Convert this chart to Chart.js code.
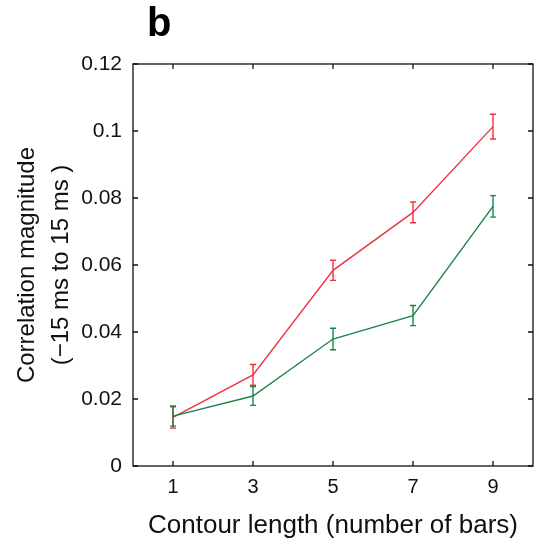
<!DOCTYPE html>
<html>
<head>
<meta charset="utf-8">
<script src="https://cdn.jsdelivr.net/npm/chart.js@4"></script>
<style>
  html, body { margin: 0; padding: 0; background: #ffffff; }
  #chart { display: block; }
</style>
</head>
<body>
<canvas id="chart" width="550" height="546"></canvas>
<script>
// Data
const contourLengths = [1, 3, 5, 7, 9];
const redMeans  = [0.0145, 0.0272, 0.0584, 0.0757, 0.1013];
const redErrs   = [0.0032, 0.0031, 0.0030, 0.0031, 0.0037];
const greenMeans = [0.0149, 0.0209, 0.0379, 0.0449, 0.0775];
const greenErrs  = [0.0030, 0.0028, 0.0032, 0.0030, 0.0032];

const xTicks = [1, 3, 5, 7, 9];
const yTicks = [0, 0.02, 0.04, 0.06, 0.08, 0.1, 0.12];
const yTickLabels = ['0', '0.02', '0.04', '0.06', '0.08', '0.1', '0.12'];

const RED = '#ee3340';
const GREEN = '#1b8548';
const FONT = '"Liberation Sans", Arial, Helvetica, sans-serif';

function toPoints(xs, ys) {
    return xs.map((x, i) => ({ x: x, y: ys[i] }));
}

// Error bars drawn through the chart's scales
const errorBarPlugin = {
    id: 'errorBars',
    afterDatasetsDraw(chart) {
        const ctx = chart.ctx;
        const xs = chart.scales.x;
        const ys = chart.scales.y;
        const sets = [
            { means: redMeans, errs: redErrs, color: RED },
            { means: greenMeans, errs: greenErrs, color: GREEN }
        ];
        ctx.save();
        sets.forEach(s => {
            ctx.strokeStyle = s.color;
            ctx.lineWidth = 1.4;
            s.means.forEach((m, i) => {
                const px = xs.getPixelForValue(contourLengths[i]);
                const top = ys.getPixelForValue(m + s.errs[i]);
                const bot = ys.getPixelForValue(m - s.errs[i]);
                ctx.beginPath();
                ctx.moveTo(px, top);
                ctx.lineTo(px, bot);
                ctx.moveTo(px - 3, top);
                ctx.lineTo(px + 3, top);
                ctx.moveTo(px - 3, bot);
                ctx.lineTo(px + 3, bot);
                ctx.stroke();
            });
        });
        ctx.restore();
    }
};

// Box frame with inward ticks, plus the panel letter
const framePlugin = {
    id: 'frame',
    afterDraw(chart) {
        const ctx = chart.ctx;
        const a = chart.chartArea;
        const xs = chart.scales.x;
        const ys = chart.scales.y;
        const tl = 5;
        ctx.save();
        ctx.strokeStyle = '#111111';
        ctx.lineWidth = 1.3;
        ctx.strokeRect(a.left, a.top, a.right - a.left, a.bottom - a.top);
        ctx.beginPath();
        xTicks.forEach(v => {
            const px = xs.getPixelForValue(v);
            ctx.moveTo(px, a.bottom);
            ctx.lineTo(px, a.bottom - tl);
            ctx.moveTo(px, a.top);
            ctx.lineTo(px, a.top + tl);
        });
        yTicks.forEach(v => {
            const py = ys.getPixelForValue(v);
            ctx.moveTo(a.left, py);
            ctx.lineTo(a.left + tl, py);
            ctx.moveTo(a.right, py);
            ctx.lineTo(a.right - tl, py);
        });
        ctx.stroke();

        ctx.fillStyle = '#000000';
        ctx.font = 'bold 40px ' + FONT;
        ctx.textAlign = 'left';
        ctx.textBaseline = 'alphabetic';
        ctx.fillText('b', 147, 36);
        ctx.restore();
    }
};

new Chart(document.getElementById('chart'), {
    type: 'line',
    data: {
        datasets: [
            {
                label: 'red',
                data: toPoints(contourLengths, redMeans),
                borderColor: RED,
                borderWidth: 1.4,
                pointRadius: 0,
                tension: 0,
                fill: false,
                order: 1
            },
            {
                label: 'green',
                data: toPoints(contourLengths, greenMeans),
                borderColor: GREEN,
                borderWidth: 1.4,
                pointRadius: 0,
                tension: 0,
                fill: false,
                order: 0
            }
        ]
    },
    options: {
        responsive: false,
        animation: false,
        layout: { padding: { left: 0, right: 17, top: 64, bottom: 0 } },
        plugins: {
            legend: { display: false },
            tooltip: { enabled: false }
        },
        scales: {
            x: {
                type: 'linear',
                min: 0,
                max: 10,
                afterBuildTicks(scale) {
                    scale.ticks = xTicks.map(v => ({ value: v }));
                },
                afterFit(scale) { scale.height = 80; },
                grid: { display: false, drawTicks: false },
                border: { display: false },
                ticks: {
                    color: '#111111',
                    padding: 9,
                    maxRotation: 0,
                    font: { family: FONT, size: 20 },
                    callback: v => String(v)
                },
                title: {
                    display: true,
                    text: 'Contour length (number of bars)',
                    color: '#111111',
                    padding: { top: 0, bottom: 5 },
                    font: { family: FONT, size: 26 }
                }
            },
            y: {
                type: 'linear',
                min: 0,
                max: 0.12,
                afterBuildTicks(scale) {
                    scale.ticks = yTicks.map(v => ({ value: v }));
                },
                afterFit(scale) { scale.width = 133; },
                grid: { display: false, drawTicks: false },
                border: { display: false },
                ticks: {
                    color: '#111111',
                    padding: 11,
                    font: { family: FONT, size: 21 },
                    callback: (v) => {
                        const i = yTicks.findIndex(t => Math.abs(t - v) < 1e-9);
                        return i >= 0 ? yTickLabels[i] : '';
                    }
                },
                title: {
                    display: true,
                    text: ['Correlation magnitude', '(\u221215 ms to 15 ms )'],
                    color: '#111111',
                    padding: { top: 10, bottom: 0 },
                    font: { family: FONT, size: 24, lineHeight: 1.42 }
                }
            }
        }
    },
    plugins: [errorBarPlugin, framePlugin]
});
</script>
</body>
</html>
